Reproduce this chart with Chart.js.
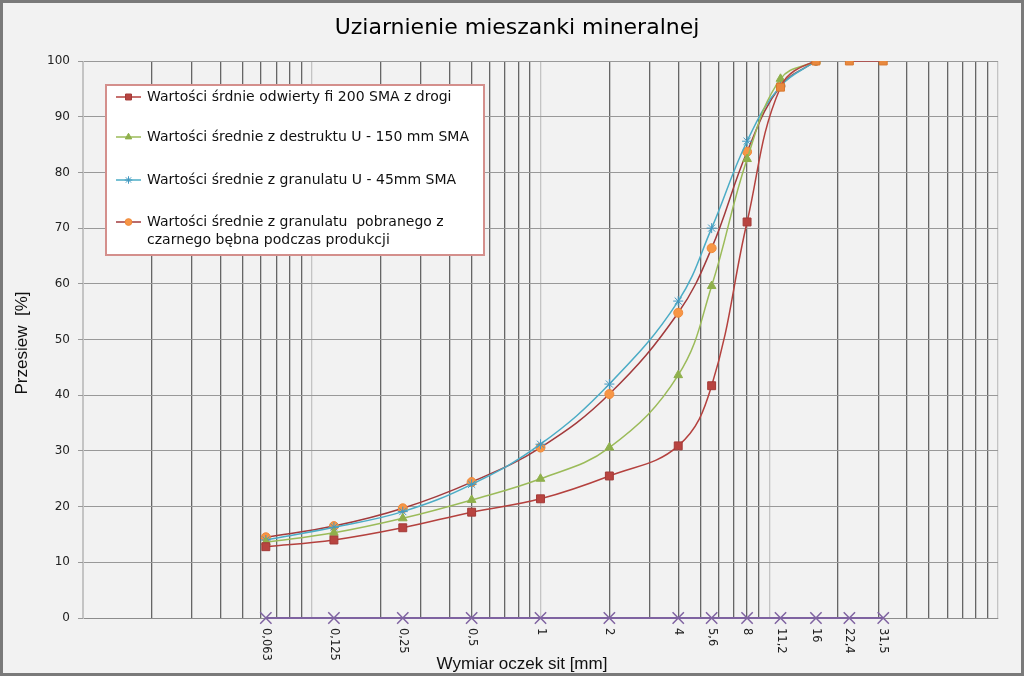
<!DOCTYPE html>
<html>
<head>
<meta charset="utf-8">
<script src="https://cdn.jsdelivr.net/npm/chart.js@4/dist/chart.umd.min.js"></script>
<style>
  body { margin: 0; background: #F2F2F2; }
  canvas { display: block; }
</style>
</head>
<body>
<canvas id="chart" width="1024" height="676"></canvas>
<script>
// oczka sit [mm] i ich etykiety
const sieves = [0.063, 0.125, 0.25, 0.5, 1, 2, 4, 5.6, 8, 11.2, 16, 22.4, 31.5];
const sieveLabels = ["0,063", "0,125", "0,25", "0,5", "1", "2", "4", "5,6", "8", "11,2", "16", "22,4", "31,5"];

// przesiew [%]
const odwierty = [12.8, 14.0, 16.2, 19.0, 21.4, 25.5, 30.9, 41.7, 71.1, 95.3, 100, 100, 100];
const destrukt = [13.6, 15.3, 17.9, 21.2, 25.0, 30.6, 43.6, 59.6, 82.4, 96.8, 100];
const granulat45 = [14.0, 16.3, 19.1, 24.0, 31.2, 42.0, 56.9, 70.0, 85.6, 95.5, 100];
const granulatBeben = [14.5, 16.5, 19.7, 24.4, 30.6, 40.2, 54.8, 66.4, 83.7, 95.5, 100];
const baseline = [0, 0, 0, 0, 0, 0, 0, 0, 0, 0, 0, 0, 0];

const yTicks = [0, 10, 20, 30, 40, 50, 60, 70, 80, 90, 100];

const seriesNames = [
    ["Wartości śrdnie odwierty fi 200 SMA z drogi"],
    ["Wartości średnie z destruktu U - 150 mm SMA"],
    ["Wartości średnie z granulatu U - 45mm SMA"],
    ["Wartości średnie z granulatu  pobranego z", "czarnego bębna podczas produkcji"]
];

function toPoints(values) {
    return values.map((v, i) => ({ x: sieves[i], y: v }));
}

const datasets = [
    {
        label: seriesNames[0].join(" "),
        data: toPoints(odwierty),
        borderColor: "#B4413E",
        backgroundColor: odwierty.map((v, i) => i >= 9 ? "#E8893F" : "#B84440"),
        pointBorderColor: odwierty.map((v, i) => i >= 9 ? "#D9782E" : "#A33A37"),
        pointStyle: "rect",
        pointRadius: 5.6,
        segment: {
            borderColor: ctx => ctx.p0.parsed.x === 16 ? "rgba(0,0,0,0)" : undefined
        }
    },
    {
        label: seriesNames[1].join(" "),
        data: toPoints(destrukt),
        borderColor: "#9BBB59",
        backgroundColor: "#8FB04C",
        pointBorderColor: "#8FB04C",
        pointStyle: "triangle",
        pointRadius: 5
    },
    {
        label: seriesNames[2].join(" "),
        data: toPoints(granulat45),
        borderColor: "#4BACC6",
        backgroundColor: "#4198C0",
        pointBorderColor: "#4198C0",
        pointStyle: "star",
        pointRadius: 5
    },
    {
        label: seriesNames[3].join(" "),
        data: toPoints(granulatBeben),
        borderColor: "#A23A3C",
        backgroundColor: "#F79646",
        pointBorderColor: "#F08A3A",
        pointStyle: "circle",
        pointRadius: 4.5
    },
    {
        label: "sita",
        data: toPoints(baseline),
        borderColor: "#7F63A1",
        backgroundColor: "#7F63A1",
        pointBorderColor: "#7F63A1",
        pointStyle: "crossRot",
        pointRadius: 8,
        pointBorderWidth: 1.5,
        borderWidth: 2,
        tension: 0,
        clip: false
    }
];

const decorations = {
    id: "decorations",
    beforeDraw(chart) {
        const ctx = chart.ctx;
        ctx.save();
        ctx.fillStyle = "#F2F2F2";
        ctx.fillRect(0, 0, chart.width, chart.height);
        ctx.restore();
    },
    afterDraw(chart) {
        const ctx = chart.ctx;
        const x = chart.scales.x;
        const area = chart.chartArea;
        ctx.save();

        // tytuł
        ctx.fillStyle = "#000";
        ctx.font = "22px 'DejaVu Sans'";
        ctx.textAlign = "center";
        ctx.textBaseline = "middle";
        ctx.fillText("Uziarnienie mieszanki mineralnej", 517, 28);

        // tytuły osi
        ctx.font = "17px 'Liberation Sans'";
        ctx.fillStyle = "#111";
        ctx.fillText("Wymiar oczek sit [mm]", 522, 664);
        ctx.save();
        ctx.translate(22, 343);
        ctx.rotate(-Math.PI / 2);
        ctx.fillText("Przesiew  [%]", 0, 0);
        ctx.restore();

        // etykiety sit, obrócone
        ctx.font = "11.5px 'DejaVu Sans'";
        ctx.fillStyle = "#222";
        ctx.textAlign = "left";
        sieves.forEach((s, i) => {
            ctx.save();
            ctx.translate(x.getPixelForValue(s), area.bottom + 10);
            ctx.rotate(Math.PI / 2);
            ctx.fillText(sieveLabels[i], 0, 0);
            ctx.restore();
        });

        // legenda
        ctx.fillStyle = "#FFFFFF";
        ctx.fillRect(106, 85, 378, 170);
        ctx.strokeStyle = "#D48F8C";
        ctx.lineWidth = 2;
        ctx.strokeRect(106, 85, 378, 170);
        const rows = [97, 137, 180, 222];
        ctx.font = "14px 'DejaVu Sans'";
        ctx.fillStyle = "#111";
        ctx.textBaseline = "middle";
        seriesNames.forEach((lines, i) => {
            const ds = chart.data.datasets[i];
            const y = rows[i];
            ctx.strokeStyle = ds.borderColor;
            ctx.lineWidth = 1.5;
            ctx.beginPath();
            ctx.moveTo(116, y);
            ctx.lineTo(141, y);
            ctx.stroke();
            ctx.fillStyle = Array.isArray(ds.backgroundColor) ? ds.backgroundColor[0] : ds.backgroundColor;
            ctx.strokeStyle = Array.isArray(ds.pointBorderColor) ? ds.pointBorderColor[0] : ds.pointBorderColor;
            ctx.lineWidth = 1;
            Chart.helpers.drawPoint(ctx, {
                pointStyle: ds.pointStyle,
                radius: ds.pointRadius * 0.75,
                rotation: 0,
                borderWidth: 1
            }, 128.5, y);
            ctx.fillStyle = "#111";
            lines.forEach((t, j) => ctx.fillText(t, 147, y + j * 18));
        });

        // ramka
        ctx.strokeStyle = "#7A7A7A";
        ctx.lineWidth = 3;
        ctx.strokeRect(1.5, 1.5, chart.width - 3, chart.height - 3);
        ctx.restore();
    }
};

new Chart(document.getElementById("chart"), {
    type: "line",
    data: { datasets: datasets },
    options: {
        responsive: false,
        animation: false,
        devicePixelRatio: 1,
        layout: { padding: { top: 61, right: 26, left: 0, bottom: 0 } },
        elements: {
            line: { borderWidth: 1.5, tension: 0.4 },
            point: { borderWidth: 1 }
        },
        plugins: {
            legend: { display: false },
            title: { display: false },
            tooltip: { enabled: false }
        },
        scales: {
            x: {
                type: "logarithmic",
                min: 0.01,
                max: 100,
                afterBuildTicks(scale) {
                    const ticks = [];
                    for (let e = -2; e <= 1; e++) {
                        for (let m = 1; m <= 9; m++) {
                            ticks.push({ value: Number((m * Math.pow(10, e)).toPrecision(3)) });
                        }
                    }
                    ticks.push({ value: 100 });
                    scale.ticks = ticks;
                },
                afterFit(scale) { scale.height = 58; },
                ticks: { display: false },
                grid: {
                    drawTicks: false,
                    lineWidth: 1.3,
                    color: ctx => {
                        const v = ctx.tick ? ctx.tick.value : 1;
                        const l = Math.log10(v);
                        return Math.abs(l - Math.round(l)) < 1e-9 ? "#C4C4C4" : "#666666";
                    }
                },
                border: { color: "#8C8C8C" }
            },
            y: {
                min: 0,
                max: 100,
                afterBuildTicks(scale) {
                    scale.ticks = yTicks.map(v => ({ value: v }));
                },
                afterFit(scale) { scale.width = 83; },
                ticks: {
                    font: { family: "DejaVu Sans", size: 12 },
                    color: "#222",
                    padding: 8
                },
                grid: { color: "#999999", tickLength: 5 },
                border: { color: "#C4C4C4" }
            }
        }
    },
    plugins: [decorations]
});
</script>
</body>
</html>
